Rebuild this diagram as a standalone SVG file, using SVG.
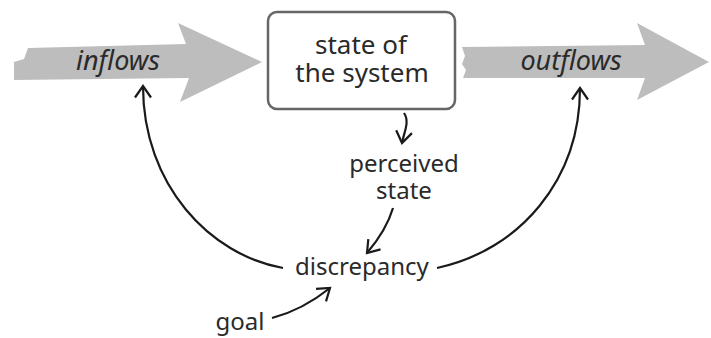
<svg xmlns="http://www.w3.org/2000/svg" width="711" height="338" viewBox="0 0 711 338">
<style>
.flow{fill:#bdbdbd;stroke:none}
.lbl{font-family:"Noto Sans","DejaVu Sans",sans-serif;font-size:24px;fill:#2a2a2a;text-anchor:middle}
.box{font-family:"Noto Sans","DejaVu Sans",sans-serif;font-size:26px;fill:#2a2a2a;text-anchor:middle}
.it{font-family:"Noto Sans","DejaVu Sans",sans-serif;font-size:27px;font-style:italic;fill:#2a2a2a;text-anchor:middle}
.conn{fill:none;stroke:#1a1a1a;stroke-width:2.2;marker-end:url(#head)}
</style>
<defs>
<marker id="head" markerUnits="userSpaceOnUse" markerWidth="30" markerHeight="30" refX="0" refY="0" viewBox="-15 -15 30 30" orient="auto" overflow="visible">
<path d="M-11.5,-8 L0,0 L-11.5,8" fill="none" stroke="#1a1a1a" stroke-width="2.2" stroke-linejoin="miter"/>
</marker>
</defs>
<rect width="711" height="338" fill="#ffffff"/>
<g id="inflows">
<path class="flow" d="M28,48 L186,44 L178,23 L262,62 L180,102 L189,78 L14,80 L14,62 L24,59 Z"/>
<text class="it" x="118" y="70">inflows</text>
</g>
<g id="outflows">
<path class="flow" d="M462,47 L645,45 L637,23 L709,62 L637,100 L645,78 L463,78 L466,70 L462,64 L465,56 Z"/>
<text class="it" x="571" y="70">outflows</text>
</g>
<g id="state">
<rect x="268" y="12" width="187" height="97" rx="9" ry="9" fill="#ffffff" stroke="#666666" stroke-width="2.5"/>
<text class="box"><tspan x="361" y="54">state of</tspan><tspan x="362" y="82">the system</tspan></text>
</g>
<g id="perceived">
<text class="lbl"><tspan x="404" y="172">perceived</tspan><tspan x="404" y="199">state</tspan></text>
</g>
<g id="discrepancy">
<text class="lbl" x="362" y="275">discrepancy</text>
</g>
<g id="goal">
<text class="lbl" x="240" y="330">goal</text>
</g>
<g id="connectors">
<path class="conn" d="M404,113 C410,122 404,132 402,143"/>
<path class="conn" d="M393,208 C388,225 378,240 367,253"/>
<path class="conn" d="M272,318 C295,312 315,300 330,288"/>
<path class="conn" d="M283,268 C210,255 143,185 143,86"/>
<path class="conn" d="M437,268 C520,250 580,180 580,88"/>
</g>
</svg>
